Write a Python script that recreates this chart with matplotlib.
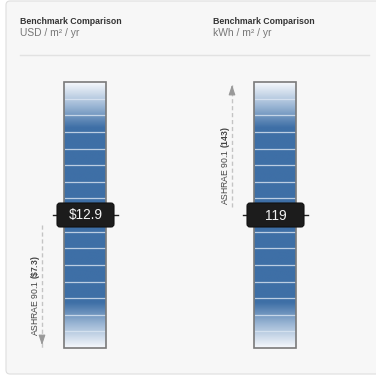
import numpy as np
import matplotlib.pyplot as plt
from matplotlib.patches import FancyBboxPatch, Rectangle
from matplotlib.colors import LinearSegmentedColormap

plt.rcParams['mathtext.fontset'] = 'custom'
plt.rcParams['mathtext.rm'] = 'Liberation Sans'
plt.rcParams['mathtext.bf'] = 'Liberation Sans:bold'

# values
titles = ['Benchmark Comparison', 'Benchmark Comparison']
units = ['USD / m² / yr', 'kWh / m² / yr']
values = [12.9, 119]
value_labels = ['$12.9', '119']
bench = [7.3, 143]
bench_labels = [r'ASHRAE 90.1 $\mathbf{(\$7.3)}$', r'ASHRAE 90.1 $\mathbf{(143)}$']
n_segments = 16

fig = plt.figure(figsize=(3.76, 3.76), dpi=100)
fig.patch.set_facecolor('white')
ax = fig.add_axes([0, 0, 1, 1])
ax.set_xlim(0, 376)
ax.set_ylim(376, 0)
ax.axis('off')

# card background
card = FancyBboxPatch((6, 1), 380, 373, boxstyle='round,pad=0,rounding_size=4',
                      facecolor='#f7f7f7', edgecolor='#dedede', linewidth=0.8)
ax.add_patch(card)
ax.plot([20, 369], [55, 55], color='#e2e2e2', lw=1)

blue = LinearSegmentedColormap.from_list('b', ['#f4f7fb', '#9fb9d6', '#3e6fa6'])

col_x = [20, 213]
bar_x = [64, 254]
bar_w = 42
bar_top, bar_bot = 82, 348
font = ['Liberation Sans', 'DejaVu Sans']

for i in range(2):
    ax.text(col_x[i], 21, titles[i], fontsize=6.3, fontweight='bold', color='#333333',
            family=font, va='center')
    ax.text(col_x[i], 33, units[i], fontsize=7.4, color='#777777',
            family=font, va='center')

    x0 = bar_x[i]
    # gradient bar
    h = bar_bot - bar_top
    t = np.linspace(0, 1, 200)
    prof = np.clip(np.minimum(t, 1 - t) / 0.17, 0, 1)
    ax.imshow(prof[:, None], cmap=blue, vmin=0, vmax=1, aspect='auto',
              extent=[x0, x0 + bar_w, bar_bot, bar_top], interpolation='bilinear', zorder=2)
    seg = h / n_segments
    for k in range(1, n_segments):
        yy = bar_top + k * seg
        ax.plot([x0 + 1, x0 + bar_w - 1], [yy, yy], color='#dbe6f2', lw=0.9, alpha=0.8, zorder=3)
    ax.add_patch(Rectangle((x0, bar_top), bar_w, h, fill=False, edgecolor='#7a7a7a', lw=1.2, zorder=4))

    # marker for the value (centre of the bar)
    ym = (bar_top + bar_bot) / 2
    ax.plot([x0 - 11, x0 + bar_w + 12], [ym, ym], color='#222222', lw=1, zorder=5)
    box = FancyBboxPatch((x0 - 7, ym - 12), bar_w + 15, 24, boxstyle='round,pad=0,rounding_size=3',
                         facecolor='#1c1c1c', edgecolor='#111111', lw=0.8, zorder=6)
    ax.add_patch(box)
    ax.text(x0 + bar_w / 2 + 0.5, ym + 0.5, value_labels[i], color='#f2f2f2', fontsize=9.8,
            family=font, ha='center', va='center', zorder=7)

    # benchmark arrow: below the value goes down, above goes up
    ax_x = x0 - 22
    if bench[i] < values[i]:
        y_start, y_end = ym + 10, bar_bot
        y_text = 296
    else:
        y_start, y_end = ym - 8, bar_top
        y_text = 166
    ax.plot([ax_x, ax_x], [y_start, y_end], color='#c4c4c4', lw=1, ls=(0, (3, 2)), zorder=2)
    ax.annotate('', xy=(ax_x, y_end), xytext=(ax_x, y_end - np.sign(y_end - y_start) * 10),
                arrowprops=dict(arrowstyle='-|>,head_width=0.2,head_length=0.6',
                                color='#999999', lw=0.8))
    ax.text(ax_x - 6.5, y_text, bench_labels[i], rotation=90, fontsize=6.2, color='#444444',
            family=font, ha='center', va='center')

fig.savefig('out.png', dpi=100)
